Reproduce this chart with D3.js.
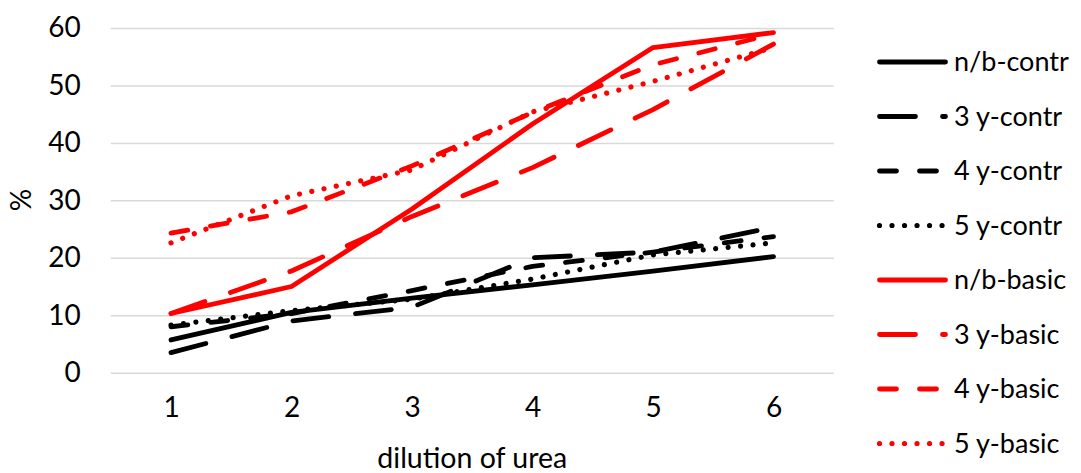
<!DOCTYPE html>
<html>
<head>
<meta charset="utf-8">
<script src="https://cdn.jsdelivr.net/npm/d3@7"></script>
<style>
  body { margin: 0; background: #fff; }
  svg { display: block; font-family: Lato, "Open Sans", sans-serif; }
</style>
</head>
<body>
<div class="chart"></div>
<script>
// data
const categories = [1, 2, 3, 4, 5, 6];
const seriesNames = ['n/b-contr', '3 y-contr', '4 y-contr', '5 y-contr',
                     'n/b-basic', '3 y-basic', '4 y-basic', '5 y-basic'];
const nbContr  = [5.7, 10.5, 13.0, 15.3, 17.7, 20.2];
const y3Contr  = [3.5, 9.0, 11.4, 20.0, 21.0, 25.3];
const y4Contr  = [8.0, 10.3, 14.3, 18.5, 21.0, 23.7];
const y5Contr  = [8.3, 10.8, 12.8, 16.3, 20.5, 22.6];
const nbBasic  = [10.3, 15.0, 28.5, 43.3, 56.6, 59.2];
const y3Basic  = [10.3, 17.7, 27.2, 35.7, 45.8, 57.2];
const y4Basic  = [24.3, 28.0, 36.0, 45.3, 53.6, 59.0];
const y5Basic  = [22.6, 30.8, 35.3, 45.4, 50.7, 56.6];
const yTicks = [0, 10, 20, 30, 40, 50, 60];

const allValues = [nbContr, y3Contr, y4Contr, y5Contr, nbBasic, y3Basic, y4Basic, y5Basic];

const w = 1081;
const h = 473;
const lineW = 4.8;

// line styles: solid, long dash, dash, round dot
const dashes = [null, '36,27', '17,23', '0.01,12.5'];
const colors = ['#000000', '#ff0000'];

const series = seriesNames.map((name, i) => ({
  name: name,
  values: allValues[i],
  color: colors[Math.floor(i / 4)],
  dash: dashes[i % 4]
}));

const xScale = d3.scalePoint()
  .domain(categories)
  .range([110.75, 833.75])
  .padding(0.5);

const yScale = d3.scaleLinear()
  .domain([0, 60])
  .range([372.7, 28]);

const svg = d3.select('div.chart')
  .append('svg')
  .attr('width', w)
  .attr('height', h);

// gridlines + y labels
const yAxis = d3.axisLeft(yScale)
  .tickValues(yTicks)
  .tickSize(-(833.75 - 110.75))
  .tickPadding(30);

const gy = svg.append('g')
  .attr('transform', 'translate(110.75,0)')
  .call(yAxis);
gy.select('.domain').remove();
gy.selectAll('.tick line')
  .attr('stroke', '#d9d9d9')
  .attr('stroke-width', 1.5);
gy.selectAll('.tick text')
  .attr('fill', '#000')
  .attr('font-size', 28)
  .attr('font-family', 'Lato, sans-serif');

// x labels
const xAxis = d3.axisBottom(xScale).tickSize(0).tickPadding(24);
const gx = svg.append('g')
  .attr('transform', 'translate(0,372.7)')
  .call(xAxis);
gx.select('.domain').remove();
gx.selectAll('.tick text')
  .attr('fill', '#000')
  .attr('font-size', 28)
  .attr('font-family', 'Lato, sans-serif');

// lines
const line = d3.line()
  .x((d, i) => xScale(categories[i]))
  .y(d => yScale(d));

svg.append('g')
  .selectAll('path')
  .data(series)
  .enter()
  .append('path')
  .attr('d', d => line(d.values))
  .attr('fill', 'none')
  .attr('stroke', d => d.color)
  .attr('stroke-width', d => d.dash === '0.01,12.5' ? 5.2 : lineW)
  .attr('stroke-linecap', 'round')
  .attr('stroke-linejoin', 'round')
  .attr('stroke-dasharray', d => d.dash);

// axis titles
svg.append('text')
  .text('dilution of urea')
  .attr('x', (110.75 + 833.75) / 2)
  .attr('y', 468)
  .attr('text-anchor', 'middle')
  .attr('font-size', 28.5);

svg.append('text')
  .text('%')
  .attr('transform', 'translate(31,200) rotate(-90)')
  .attr('text-anchor', 'middle')
  .attr('font-size', 28);

// legend
const legend = svg.append('g')
  .selectAll('g')
  .data(series)
  .enter()
  .append('g')
  .attr('transform', (d, i) => 'translate(0,' + (62 + i * 54.5) + ')');

legend.append('line')
  .attr('x1', 879.5)
  .attr('x2', 945.5)
  .attr('y1', 0)
  .attr('y2', 0)
  .attr('stroke', d => d.color)
  .attr('stroke-width', d => d.dash === '0.01,12.5' ? 5.2 : lineW)
  .attr('stroke-linecap', 'round')
  .attr('stroke-dasharray', d => d.dash);

legend.append('text')
  .text(d => d.name)
  .attr('x', 954)
  .attr('y', 0)
  .attr('dy', '0.35em')
  .attr('font-size', 27);
</script>
</body>
</html>
